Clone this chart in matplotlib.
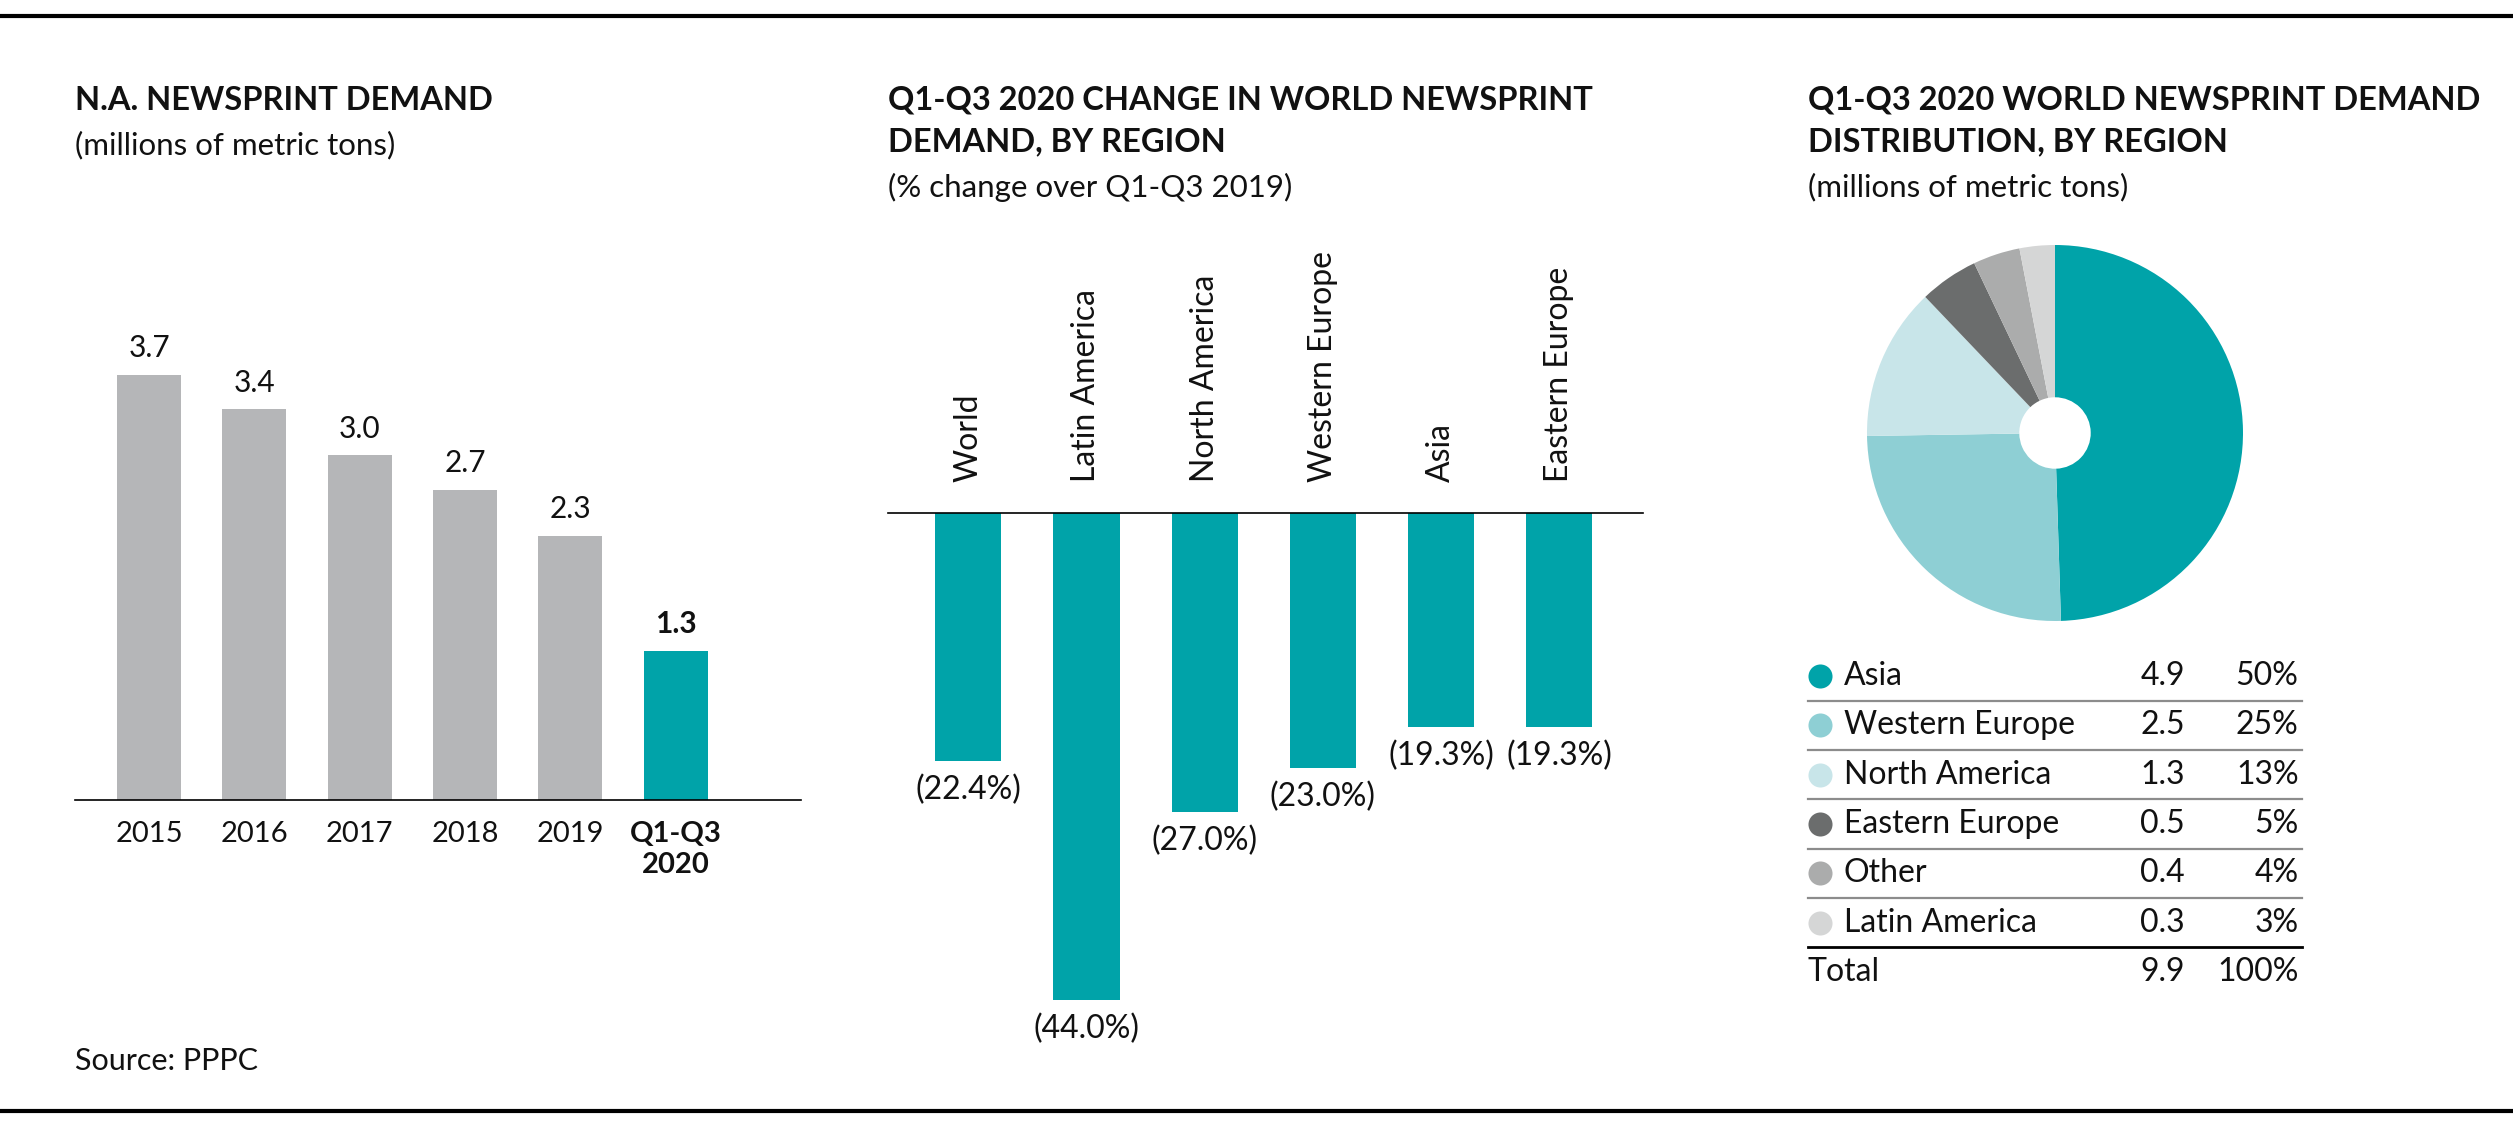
import matplotlib
matplotlib.use('Agg')
import matplotlib.pyplot as plt
from matplotlib.lines import Line2D

plt.rcParams['font.family'] = ['Lato', 'DejaVu Sans']

# data
years = ['2015', '2016', '2017', '2018', '2019', 'Q1-Q3\n2020']
demand = [3.7, 3.4, 3.0, 2.7, 2.3, 1.3]

regions = ['World', 'Latin America', 'North America', 'Western Europe', 'Asia', 'Eastern Europe']
change = [-22.4, -44.0, -27.0, -23.0, -19.3, -19.3]

pie_regions = ['Asia', 'Western Europe', 'North America', 'Eastern Europe', 'Other', 'Latin America']
pie_values = [4.9, 2.5, 1.3, 0.5, 0.4, 0.3]
pie_pcts = ['50%', '25%', '13%', '5%', '4%', '3%']
total_value = '9.9'
total_pct = '100%'

TEAL = '#00a3a9'
GRAY = '#b5b6b8'
pie_colors = ['#00a3a9', '#8ecfd4', '#c8e5e9', '#6b6d6d', '#abacac', '#d5d6d6']
TXT = '#111111'

W, H = 2513, 1136
fig = plt.figure(figsize=(W / 100, H / 100), dpi=100)


def fx(px):
    return px / W


def fy(py):
    return 1 - py / H


TITLE_FS = 23.5
SUB_FS = 22.5

# rules top and bottom
fig.add_artist(Line2D([0, 1], [fy(16), fy(16)], color='black', lw=3))
fig.add_artist(Line2D([0, 1], [fy(1111), fy(1111)], color='black', lw=3))

# ---- left: N.A. demand
fig.text(fx(75), fy(100), 'N.A. NEWSPRINT DEMAND', fontsize=TITLE_FS, fontweight='bold', color=TXT, va='center')
fig.text(fx(75), fy(145), '(millions of metric tons)', fontsize=SUB_FS, color=TXT, va='center')

ax1 = fig.add_axes([fx(75), fy(800), (801 - 75) / W, 500 / H])
x1 = range(len(years))
cols = [GRAY] * (len(years) - 1) + [TEAL]
ax1.bar(x1, demand, width=0.61, color=cols)
ax1.set_ylim(0, 500 / 115)
ax1.set_xlim(-0.703, 6.19)
for i, v in enumerate(demand):
    last = i == len(demand) - 1
    ax1.annotate('%.1f' % v, (i, v), xytext=(0, 9), textcoords='offset points',
                 ha='center', va='bottom', fontsize=21.5, color=TXT,
                 fontweight='bold' if last else 'normal')
ax1.set_xticks(list(x1))
ax1.set_xticklabels(years, fontsize=21, color=TXT, va='top', linespacing=1.25)
ax1.get_xticklabels()[-1].set_fontweight('bold')
ax1.tick_params(axis='x', length=0, pad=15)
ax1.set_yticks([])
for s in ['top', 'left', 'right']:
    ax1.spines[s].set_visible(False)
ax1.spines['bottom'].set_linewidth(1.2)

fig.text(fx(75), fy(1061), 'Source: PPPC', fontsize=22, color=TXT, va='center')

# ---- middle: change by region
fig.text(fx(888), fy(100), 'Q1-Q3 2020 CHANGE IN WORLD NEWSPRINT', fontsize=TITLE_FS, fontweight='bold', color=TXT, va='center')
fig.text(fx(888), fy(142), 'DEMAND, BY REGION', fontsize=TITLE_FS, fontweight='bold', color=TXT, va='center')
fig.text(fx(888), fy(187), '(% change over Q1-Q3 2019)', fontsize=SUB_FS, color=TXT, va='center')

ax2 = fig.add_axes([fx(888), fy(1060), (1643 - 888) / W, (1060 - 513) / H])
x2 = range(len(regions))
ax2.bar(x2, change, width=0.56, color=TEAL)
ax2.set_ylim(-(1060 - 513) / 11.07, 0)
ax2.set_xlim(-0.68, 5.71)
for i, v in enumerate(change):
    ax2.annotate('(%.1f%%)' % abs(v), (i, v), xytext=(0, -10), textcoords='offset points',
                 ha='center', va='top', fontsize=23, color=TXT)
    ax2.annotate(regions[i], (i, 0), xytext=(0, 22), textcoords='offset points',
                 ha='center', va='bottom', rotation=90, fontsize=23, color=TXT,
                 annotation_clip=False)
ax2.set_xticks([])
ax2.set_yticks([])
for s in ['bottom', 'left', 'right']:
    ax2.spines[s].set_visible(False)
ax2.spines['top'].set_linewidth(1.2)

# ---- right: distribution pie
fig.text(fx(1808), fy(100), 'Q1-Q3 2020 WORLD NEWSPRINT DEMAND', fontsize=TITLE_FS, fontweight='bold', color=TXT, va='center')
fig.text(fx(1808), fy(142), 'DISTRIBUTION, BY REGION', fontsize=TITLE_FS, fontweight='bold', color=TXT, va='center')
fig.text(fx(1808), fy(187), '(millions of metric tons)', fontsize=SUB_FS, color=TXT, va='center')

r = 188
ax3 = fig.add_axes([fx(2055 - r), fy(433 + r), 2 * r / W, 2 * r / H])
ax3.pie(pie_values, colors=pie_colors, startangle=90, counterclock=False, radius=1,
        wedgeprops=dict(width=0.81, linewidth=0))
ax3.set_xlim(-1, 1)
ax3.set_ylim(-1, 1)

# legend table
row0, step = 676, 49.3
top, bot = 655, 995
ax4 = fig.add_axes([fx(1808), fy(bot), (2302 - 1808) / W, (bot - top) / H])
ax4.set_xlim(0, 1)
ax4.set_ylim((bot - row0) / step, (top - row0) / step)
ax4.axis('off')
LEG_FS = 23
for i, name in enumerate(pie_regions):
    ax4.scatter([0.024], [i], s=300, color=pie_colors[i], clip_on=False, linewidths=0)
    ax4.text(0.072, i, name, fontsize=LEG_FS, color=TXT, va='center')
    ax4.text(0.763, i, '%.1f' % pie_values[i], fontsize=LEG_FS, color=TXT, va='center', ha='right')
    ax4.text(0.993, i, pie_pcts[i], fontsize=LEG_FS, color=TXT, va='center', ha='right')
    last = i == len(pie_regions) - 1
    ax4.plot([0, 1], [i + 0.5, i + 0.5], color='black' if last else '#8c8c8c',
             lw=2.0 if last else 1.6, clip_on=False)
n = len(pie_regions)
ax4.text(0.0, n, 'Total', fontsize=LEG_FS, color=TXT, va='center')
ax4.text(0.763, n, total_value, fontsize=LEG_FS, color=TXT, va='center', ha='right')
ax4.text(0.993, n, total_pct, fontsize=LEG_FS, color=TXT, va='center', ha='right')

fig.savefig('out.png', dpi=100)
